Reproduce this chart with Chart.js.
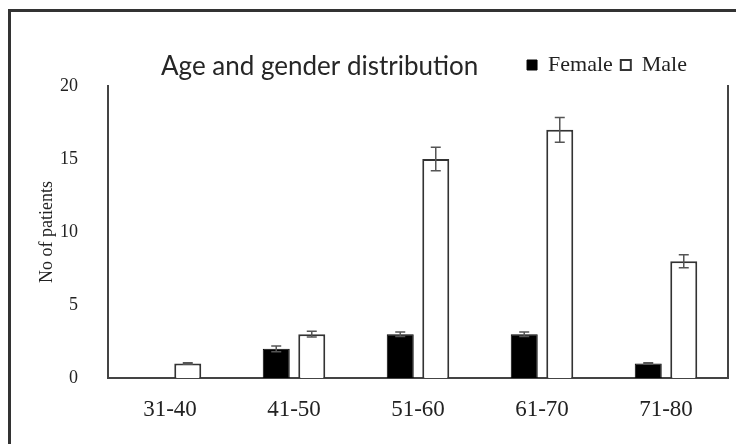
<!DOCTYPE html>
<html>
<head>
<meta charset="utf-8">
<script src="https://cdn.jsdelivr.net/npm/chart.js@4.4.0/dist/chart.umd.min.js"></script>
<style>
  html, body { margin: 0; padding: 0; background: #fff; }
  #wrap { position: relative; width: 736px; height: 444px; overflow: hidden; }
  #frame { position: absolute; left: 8px; top: 9px; width: 800px; height: 500px;
           border-top: 3px solid #333; border-left: 3px solid #333; }
  canvas { position: absolute; left: 0; top: 0; }
</style>
</head>
<body>
<div id="wrap">
  <div id="frame"></div>
  <canvas id="ageChart"></canvas>
</div>
<script>
// data
const ageGroups = ["31-40", "41-50", "51-60", "61-70", "71-80"];
const female = [0, 2, 3, 3, 1];
const male = [1, 3, 15, 17, 8];
const femaleErr = [0, 0.2, 0.15, 0.15, 0.05];
const maleErr = [0.05, 0.2, 0.8, 0.85, 0.45];
const yTicks = [0, 5, 10, 15, 20];
const chartTitle = "Age and gender distribution";

// error bars drawn over each bar
const errorBars = {
  id: 'errorBars',
  afterDatasetsDraw(chart) {
    const ctx = chart.ctx;
    const y = chart.scales.y;
    ctx.save();
    ctx.strokeStyle = '#555';
    ctx.lineWidth = 1.5;
    chart.data.datasets.forEach((ds, i) => {
      const meta = chart.getDatasetMeta(i);
      meta.data.forEach((bar, j) => {
        const v = ds.data[j];
        const e = ds.errors[j];
        if (!v || !e) return;
        const top = y.getPixelForValue(v + e);
        const bot = y.getPixelForValue(v - e);
        ctx.beginPath();
        ctx.moveTo(bar.x, top); ctx.lineTo(bar.x, bot);
        ctx.moveTo(bar.x - 5, top); ctx.lineTo(bar.x + 5, top);
        ctx.moveTo(bar.x - 5, bot); ctx.lineTo(bar.x + 5, bot);
        ctx.stroke();
      });
    });
    ctx.restore();
  }
};

// title sits in the same row as the legend
const plotTitle = {
  id: 'plotTitle',
  afterDraw(chart) {
    const ctx = chart.ctx;
    ctx.save();
    ctx.font = '26px Lato';
    ctx.fillStyle = '#262626';
    ctx.textBaseline = 'alphabetic';
    ctx.fillText(chartTitle, chart.chartArea.left + 53, 75);
    ctx.restore();
  }
};

// pull the legend in from the right edge
const legendShift = {
  id: 'legendShift',
  afterLayout(chart) {
    chart.legend.right -= 33;
  }
};

const ctx = document.getElementById('ageChart').getContext('2d');
new Chart(ctx, {
  type: 'bar',
  data: {
    labels: ageGroups,
    datasets: [
      {
        label: 'Female',
        data: female,
        errors: femaleErr,
        backgroundColor: '#000',
        borderColor: '#000',
        borderWidth: 1
      },
      {
        label: 'Male',
        data: male,
        errors: maleErr,
        backgroundColor: '#fff',
        borderColor: '#333',
        borderWidth: 2
      }
    ]
  },
  options: {
    responsive: true,
    maintainAspectRatio: false,
    animation: false,
    categoryPercentage: 0.573,
    barPercentage: 0.76,
    layout: { padding: { top: 46, right: 8, bottom: 24, left: 32 } },
    plugins: {
      title: { display: false },
      tooltip: { enabled: false },
      legend: {
        position: 'top',
        align: 'end',
        labels: {
          boxWidth: 10,
          boxHeight: 10,
          padding: 8,
          color: '#222',
          font: { family: 'Liberation Serif', size: 22 }
        }
      }
    },
    scales: {
      x: {
        grid: { display: false },
        border: { display: true, color: '#444', width: 2 },
        afterFit(scale) { scale.height = 42; },
        ticks: {
          padding: 10,
          color: '#222',
          font: { family: 'Liberation Serif', size: 23 }
        }
      },
      y: {
        min: 0,
        max: 20,
        grid: { display: false },
        border: { display: true, color: '#444', width: 2 },
        afterFit(scale) { scale.width = 76; },
        afterBuildTicks(scale) {
          scale.ticks = yTicks.map(v => ({ value: v }));
        },
        ticks: {
          padding: 22,
          color: '#222',
          font: { family: 'Liberation Serif', size: 18 }
        },
        title: {
          display: true,
          text: 'No of patients',
          color: '#222',
          padding: { top: 4, bottom: 8 },
          font: { family: 'Liberation Serif', size: 18 }
        }
      },
      y2: {
        position: 'right',
        min: 0,
        max: 20,
        grid: { display: false },
        border: { display: true, color: '#444', width: 2 },
        afterFit(scale) { scale.width = 0; },
        ticks: { display: false }
      }
    }
  },
  plugins: [errorBars, plotTitle, legendShift]
});
</script>
</body>
</html>
